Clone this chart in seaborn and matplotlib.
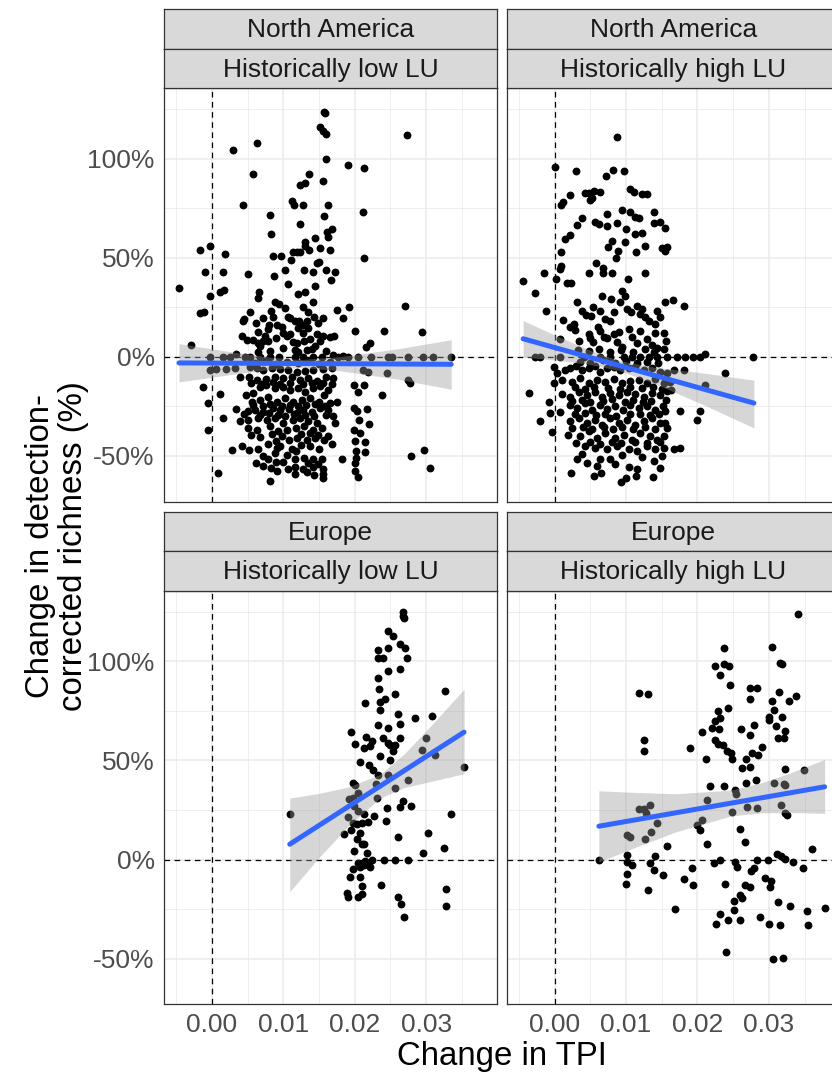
import numpy as np
import matplotlib
matplotlib.use("Agg")
import matplotlib.pyplot as plt
import seaborn as sns

sns.set_style("white")
plt.rcParams['font.family'] = ['Liberation Sans', 'DejaVu Sans']

# ---------------- data ----------------
strip_regions = ["North America", "North America", "Europe", "Europe"]
strip_history = ["Historically low LU", "Historically high LU",
                 "Historically low LU", "Historically high LU"]
x_title = "Change in TPI"
y_title = "Change in detection-\ncorrected richness (%)"

x_breaks = [0.00, 0.01, 0.02, 0.03]
x_labels = ["0.00", "0.01", "0.02", "0.03"]
x_minor = [-0.005, 0.005, 0.015, 0.025, 0.035]
y_breaks = [-50, 0, 50, 100]
y_labels = ["-50%", "0%", "50%", "100%"]
y_minor = [-25, 25, 75, 125]

# points: (change in TPI x 1000, change in richness %)
na_low_points = [
    (15.7, 123.7), (15.8, 123), (15.1, 116), (15.6, 114), (16.0, 112.5), (27.3, 112), (6.3, 108), (3.0, 104.5),
    (16.0, 100), (19.0, 97), (21.3, 95.5), (5.7, 92.5), (13.6, 92.5), (13.1, 88), (12.3, 86.7), (15.5, 89),
    (4.3, 77), (11.2, 79), (11.5, 76.7), (12.7, 77), (16.3, 77), (21.1, 73), (8.1, 71.7), (15.7, 71), (12.4, 67),
    (8.3, 62), (16.8, 64.5), (16.3, 60.5), (16.1, 63), (13.0, 58), (13.0, 56), (14.5, 60), (11.4, 53), (11.9, 53),
    (12.3, 53), (13.6, 54), (15.1, 55), (16.6, 54), (8.5, 51), (9.7, 51), (21.3, 50), (-1.7, 54), (-0.3, 56), (1.8, 52),
    (11.1, 49), (15.0, 48), (14.7, 47.5), (-4.6, 35), (-1.0, 43), (1.5, 43), (-0.3, 31), (1.1, 33), (1.7, 34),
    (-1.7, 22), (-1.1, 22.5), (5.0, 41.7), (8.7, 41), (10.2, 43.7), (10.6, 37), (12.9, 44), (14.2, 43), (16.0, 44),
    (17.2, 43), (16.7, 39), (12.0, 32), (13.1, 32.7), (14.5, 36), (6.6, 33), (6.4, 30), (8.9, 27.8), (9.4, 26.7),
    (10.3, 24.5), (12.7, 25), (14.1, 28), (13.5, 22.5), (14.3, 20), (15.6, 19.7), (17.5, 23.8), (19.2, 25.3),
    (18.4, 19.7), (27.0, 25.5), (5.3, 22.5), (4.5, 19), (4.3, 18.3), (7.2, 19.5), (6.2, 17), (8.3, 23.3), (8.6, 20.3),
    (9.1, 16.2), (10.6, 20), (11.0, 19.5), (11.6, 18.3), (12.2, 18.3), (12.1, 14.7), (13.3, 18.3), (7.9, 14),
    (6.4, 12.8), (10.0, 12.2), (10.5, 10.8), (4.2, 10.8), (4.9, 8.7), (5.8, 8.7), (6.4, 7.2), (6.7, 5.7), (7.2, 8.3),
    (7.9, 8), (11.4, 7.8), (11.9, 7), (12.9, 8), (12.8, 12), (13.5, 14.5), (14.7, 11.7), (15.6, 10.8), (16.5, 10),
    (17.1, 10.8), (14.5, 5.3), (11.7, 3.7), (13.3, 3.3), (20.1, 13), (22.1, 7), (21.6, 5), (24.1, 13.3), (29.4, 12.5),
    (-2.9, 5.8), (3.4, 1.7), (17.0, 0.8), (18.3, 0.5),
    (-0.2, 0), (1.5, 0), (2.6, 0), (4.6, 0), (5.3, 0), (6.7, 0), (8.1, 0), (9.4, 0), (11.6, 0), (12.8, 0), (14.2, 0),
    (15.4, 0), (17.7, 0), (19.1, 0), (20.5, 0), (22.3, 0), (24.7, 0), (25.2, 0), (27.4, 0), (29.6, 0), (30.9, 0), (33.5, 0),
    (-0.2, -6.7), (0.6, -6.3), (2.0, -6.3), (3.2, -5.8), (5.3, -5), (6.3, -5.8), (7.2, -6.7), (8.4, -5.5), (9.5, -6.3),
    (10.7, -6.7), (11.9, -7.5), (13.0, -7), (14.2, -6.7), (15.6, -6.3), (16.8, -5.8), (21.1, -6.7), (21.9, -7.5),
    (24.5, -8), (27.5, -11.7), (27.8, -13), (3.9, -10), (5.2, -10.3), (6.3, -11.7), (7.6, -11.3), (8.8, -10),
    (10.0, -10.8), (11.2, -10), (12.3, -11.7), (13.5, -10.8), (14.7, -12), (16.0, -10), (17.0, -10.8), (-1.2, -15),
    (19.9, -14.2), (21.3, -14.2), (20.4, -17.8), (23.8, -19.2), (1.2, -18.7), (-0.5, -23.3), (5.8, -18.3), (6.7, -15),
    (7.6, -14.2), (8.8, -15.8), (9.9, -15), (10.9, -16.7), (12.0, -15.8), (13.1, -17.5), (14.2, -15.8), (15.2, -14.7),
    (16.3, -16.7), (15.7, -19.2), (4.8, -19.2), (5.6, -22.5), (6.7, -21.7), (7.9, -20), (9.1, -22.5), (10.2, -20.8),
    (11.4, -22.5), (12.6, -21.7), (13.7, -20.8), (15.0, -22.5), (16.6, -23.3), (17.5, -22.5), (3.4, -26.3), (5.0, -27.5),
    (6.0, -26.7), (7.2, -28), (8.6, -25.8), (9.6, -27), (10.8, -26.3), (11.9, -28.3), (12.8, -26.7), (14.0, -28),
    (15.2, -25.8), (16.3, -27), (19.9, -25.8), (20.3, -27.5), (21.7, -26.3), (1.5, -30.8), (3.9, -32.5), (5.1, -31.7),
    (6.5, -30.8), (7.7, -31.7), (8.8, -30.8), (10.0, -33.3), (11.3, -32), (12.3, -30.8), (13.5, -32.5), (14.7, -33.3),
    (17.0, -30), (17.3, -33.3), (20.6, -31.7), (22.0, -33.8), (5.1, -35.8), (6.3, -36.7), (8.1, -35), (9.3, -37.5),
    (10.5, -36.7), (11.8, -35.8), (12.9, -35), (14.2, -36.7), (15.4, -35.8), (-0.5, -37), (19.9, -37), (20.7, -38.3),
    (9.8, -40), (11.9, -40.8), (13.3, -41.7), (14.4, -40.8), (15.7, -42), (20.0, -42.5), (21.4, -43), (2.8, -47),
    (4.2, -45), (5.2, -47.2), (6.4, -46.3), (9.1, -46.2), (8.8, -48.3), (10.5, -49.5), (11.2, -46.3), (11.8, -47.5),
    (7.2, -50), (7.9, -51.3), (9.0, -53.3), (10.0, -53), (11.6, -51.7), (12.9, -50.8), (14.1, -51.3), (15.4, -51.7),
    (18.2, -51.7), (20.2, -47.5), (20.2, -50.8), (21.5, -48), (20.0, -53.7), (27.9, -50), (29.7, -47), (30.6, -56.2),
    (0.9, -58.7), (7.1, -55), (9.1, -57.5), (11.6, -55.8), (12.8, -56.7), (14.2, -55.5), (15.5, -56.7), (8.1, -62.5),
    (11.6, -59.2), (13.3, -58.3), (14.3, -59.7), (15.5, -61.3), (15.5, -59.2), (20.0, -57.5), (20.5, -60.5),
    (6.0, -3), (7.5, -2), (9.0, -3.5), (10.5, -2.5), (12.0, -3), (13.5, -2), (15.0, -3.5), (16.5, -2.5),
    (5.5, -13), (7.0, -13.5), (8.5, -12.5), (9.5, -13.5), (11.0, -13), (12.8, -13.8), (14.0, -13), (15.5, -13.2),
    (16.8, -13.6), (5.8, -24.5), (7.2, -25), (8.2, -24), (9.8, -24.8), (11.0, -24.2), (12.0, -25), (13.2, -24.5),
    (14.5, -24), (15.8, -24.8), (4.5, -29), (6.8, -29.5), (8.0, -28.5), (9.2, -29.2), (10.3, -29.8), (11.5, -29),
    (13.0, -29.5), (14.3, -29.8), (16.0, -29.2), (5.5, -39.5), (6.8, -40.5), (8.4, -39), (9.0, -42.5), (10.8, -42),
    (12.5, -39), (13.8, -38.2), (14.9, -39.2), (16.2, -40), (7.8, -44), (9.5, -45), (12.5, -44.5), (13.8, -45.2),
    (15.0, -46.5), (16.8, -44), (6.2, -53.5), (8.3, -56.2), (10.6, -56.5), (13.5, -53.8), (14.8, -54),
    (6.5, 2.5), (8.2, 3.2), (10.0, 4.5), (12.0, 2.7), (14.0, 4), (16.0, 3), (7.5, 10.5), (9.0, 9.5), (11.0, 11.5),
    (13.8, 9.2), (15.2, 8), (8.0, 16.3), (9.8, 15), (12.8, 16), (14.8, 17.2),
]

na_high_points = [
    (8.7, 111), (0.0, 95.8), (3.0, 93.7), (7.2, 91.3), (8.2, 94.5), (9.7, 93.8), (4.3, 83), (4.8, 82.8), (5.5, 83.7),
    (6.3, 83.3), (5.2, 80.3), (4.9, 79.2), (2.1, 82), (1.2, 78.3), (0.9, 77), (10.6, 85), (11.1, 83.3), (12.2, 82.5),
    (12.9, 82.5), (9.5, 74), (10.6, 73.3), (11.2, 70.8), (11.8, 70), (13.9, 73.3), (7.3, 72.2), (3.8, 70.3), (3.2, 66.7),
    (5.6, 68.3), (6.2, 67), (7.3, 66.3), (8.7, 67.5), (10.0, 64.7), (11.2, 62), (12.3, 62.5), (13.9, 67.5), (14.7, 68.3),
    (15.4, 65.3), (2.2, 61.7), (1.5, 59.7), (8.0, 58.7), (9.9, 58), (7.5, 55.3), (8.9, 53.7), (12.7, 55.8), (11.4, 53),
    (15.0, 55), (15.4, 53.3), (15.7, 55.3), (0.9, 53), (8.6, 50),
    (5.8, 47.5), (6.8, 45), (8.0, 42.5), (6.8, 42.3), (0.9, 45.8), (0.7, 44.5), (4.8, 42.5), (12.6, 42.2), (-1.5, 42.2),
    (-4.4, 38.3), (0.2, 39.5), (1.7, 37.5), (2.3, 37.5), (10.3, 39.5), (-2.7, 32.5), (6.6, 30.8), (7.9, 29.2), (9.4, 33.3),
    (9.9, 30.8), (3.1, 27.8), (9.1, 27.8), (15.5, 28), (16.6, 28.8), (18.1, 25.5), (-1.2, 23), (3.8, 23.3), (5.4, 25),
    (4.4, 21.2), (5.1, 20.8), (6.4, 23.3), (7.1, 19.2), (7.8, 18.3), (8.3, 22.8), (10.1, 24.2), (10.7, 22.5), (11.5, 25.8),
    (12.2, 24.2), (11.9, 21.7), (12.6, 20), (13.2, 18.3), (14.4, 23.3), (14.8, 20), (14.1, 16.7), (1.2, 18.7), (2.7, 16.7),
    (2.1, 15), (2.9, 13.7), (3.4, 8), (4.8, 11.7), (5.0, 9.7), (5.4, 7.5), (6.1, 15), (6.4, 13), (6.9, 10.3), (7.4, 9.7),
    (8.3, 11.7), (9.0, 12.5), (8.7, 7.5), (9.4, 5), (10.4, 14.2), (10.8, 10), (11.5, 7.2), (11.9, 13.3), (12.9, 9.2),
    (13.6, 5.8), (14.1, 12), (15.3, 12), (15.6, 8), (0.8, 9.2), (14.3, 4.7), (15.3, 4.0), (21.1, 1.7),
    (-2.8, 0), (-2.0, 0), (0.8, 0), (4.1, 0), (6.4, 0), (7.8, 0), (9.7, 0), (10.8, 0), (12.0, 0), (13.2, 0), (14.3, 0),
    (15.7, 0), (17.1, 0), (18.2, 0), (19.4, 0), (20.4, 0), (27.8, 0),
    (-0.1, -5), (0.3, -8.3), (1.4, -6.7), (2.2, -5.8), (3.0, -4.7), (3.8, -6.7), (4.8, -5.8), (5.7, -4.7), (6.4, -7.5),
    (7.3, -5.8), (8.3, -5), (9.2, -6.7), (10.4, -5.8), (11.3, -5), (12.5, -6.7), (13.6, -5.8), (14.7, -7.5), (15.7, -8.3),
    (16.7, -6.7), (18.1, -6.7), (23.9, -8.3), (-0.1, -13), (1.0, -11.7), (2.4, -12.5), (3.6, -10.8), (4.8, -13.3),
    (5.9, -11.7), (7.1, -12.5), (8.3, -11.3), (9.4, -13.3), (10.6, -12), (11.8, -11.7), (12.9, -13), (14.1, -11.3),
    (15.3, -13.3), (16.2, -12.5), (21.0, -14.2), (-3.6, -18), (1.0, -18.7), (2.2, -20), (3.4, -17.5), (4.5, -19.2),
    (5.7, -17.5), (6.6, -20), (7.8, -18.3), (9.0, -19.2), (10.1, -17.5), (11.3, -18.7), (12.5, -20), (13.6, -18),
    (14.8, -19.2), (15.7, -17), (16.3, -16.7), (-0.8, -22.5), (0.8, -28), (-0.6, -28.3), (-2.0, -32.2), (-0.4, -38),
    (2.1, -24.2), (3.1, -25.8), (4.3, -23.3), (5.2, -26.7), (6.3, -24.2), (7.3, -26.3), (8.5, -24.7), (9.6, -27),
    (10.6, -24.2), (11.8, -25.8), (12.9, -24.7), (14.0, -26.7), (15.2, -24.7), (15.5, -27.5), (17.5, -27.5),
    (20.4, -27.5), (19.9, -31.7), (2.1, -32.5), (3.4, -30.8), (4.5, -33.3), (5.7, -31.7), (6.6, -34.2), (7.8, -30.8),
    (9.0, -33.3), (10.1, -32), (11.3, -34.2), (12.5, -32.5), (13.6, -30.8), (14.8, -33.3), (15.4, -33.3), (1.9, -39.2),
    (3.6, -40), (4.8, -37.5), (5.9, -40.8), (7.1, -38.3), (8.5, -40.8), (9.7, -39.2), (10.8, -41.7), (12.0, -38.3),
    (13.3, -40), (14.3, -41.7), (15.3, -40), (4.3, -45), (5.7, -45.8), (7.3, -46.7), (8.7, -45), (10.4, -46.3),
    (11.5, -47.5), (12.9, -45), (14.1, -46.3), (15.3, -45.8), (16.7, -46.3), (17.5, -45.8), (3.2, -51.7), (3.8, -49.2),
    (6.4, -51.3), (7.8, -51.7), (10.4, -55.8), (11.5, -56.7), (13.9, -52.5), (14.7, -56.3), (2.3, -58.7), (5.5, -60),
    (6.5, -58.7), (9.3, -63.3), (10.0, -61.3), (11.4, -60.3), (13.8, -60.8),
    (3.5, -2.5), (5.0, -3), (6.8, -1.5), (8.5, -3), (10.0, -2), (11.5, -3.2), (13.0, -2.3), (14.5, -3),
    (2.8, -15), (4.2, -16), (5.5, -15.2), (7.5, -15.5), (9.2, -16), (10.5, -15), (12.2, -15.8), (13.8, -15.3), (15.0, -16),
    (2.5, -22), (3.8, -21.5), (5.0, -22.5), (6.8, -22), (8.0, -21.3), (9.8, -22.5), (11.0, -21.5), (12.4, -22.5),
    (13.5, -22), (15.6, -21.8), (2.8, -29), (4.2, -28.5), (5.8, -29.3), (7.0, -28.8), (8.6, -29.8), (10.5, -29),
    (12.0, -28.8), (13.3, -29.5), (14.6, -28.7), (2.5, -36), (4.0, -35.2), (5.3, -36.3), (6.9, -35.5), (8.2, -36.2),
    (9.5, -35.3), (11.0, -36.5), (12.7, -35.5), (14.0, -36.3), (15.8, -35.8), (3.0, -43.5), (5.0, -43), (6.4, -43.8),
    (8.0, -42.8), (9.3, -43.5), (11.3, -43), (13.0, -43.6), (14.8, -42.8), (4.5, -53.5), (6.0, -55), (8.5, -54),
    (9.5, -49.5), (12.2, -50.5), (15.0, -49.8), (3.3, 3.5), (4.8, 2.8), (6.2, 4), (7.8, 2.5), (9.3, 3.3), (11.0, 2.5),
    (12.6, 3.8), (13.9, 2.7),
]

eu_low_points = [
    (26.7, 125), (26.8, 123), (26.9, 122), (24.6, 115.5), (25.3, 112.7), (23.2, 106), (24.6, 107), (23.3, 101.7),
    (24.0, 101.8), (26.4, 108.8), (27.0, 106.7), (27.3, 101.8), (26.4, 96.3), (24.6, 95), (23.2, 91.7), (23.4, 86),
    (25.7, 83.3), (21.4, 78.8), (23.6, 79.7), (24.3, 80.8), (23.6, 75.5), (32.6, 85), (26.0, 73.5), (26.3, 68.5),
    (28.5, 71.3), (30.8, 72.2), (23.2, 68), (24.6, 66.3), (19.5, 64.3), (21.6, 61.8), (20.1, 58.5), (21.3, 56.3),
    (22.4, 59.7), (22.1, 57.2), (23.9, 61.3), (24.6, 58.8), (25.0, 57.7), (26.3, 61.3), (25.7, 58), (25.4, 55),
    (23.6, 52.2), (25.0, 50), (20.7, 49.3), (22.0, 47.5), (22.6, 45.2), (23.3, 42.7), (24.7, 42.7), (30.0, 61.3),
    (29.4, 55.5), (31.2, 53), (35.3, 46.8), (27.4, 40), (25.6, 36.3), (19.7, 38.8), (20.1, 37.5), (20.5, 33.5),
    (19.7, 31.3), (23.0, 38.3), (23.1, 31.3), (19.2, 30.5), (19.9, 27.2), (20.5, 24.3), (26.8, 29.3), (26.3, 26.7),
    (27.9, 27.2), (24.5, 26), (22.7, 21.8), (21.3, 23.2), (21.0, 18.5), (21.8, 18.7), (10.9, 22.8), (33.5, 23.2),
    (19.1, 21.3), (19.7, 18.5), (20.3, 18), (24.4, 19.3), (18.5, 12.8), (19.5, 15), (20.8, 13.5), (20.3, 10.5),
    (21.0, 8), (21.3, 7.7), (26.0, 11.3), (30.2, 13.5), (32.5, 6), (29.6, 3.3), (19.9, 4.2), (21.7, 3.5),
    (20.5, -1.7), (21.0, -2.3), (21.4, -0.7), (21.9, -2.3), (22.4, 0), (24.1, 0), (25.7, 0), (27.5, 0),
    (19.7, -5), (20.7, -4), (21.3, -2.8), (22.2, -3.7), (19.3, -9), (20.7, -9), (21.0, -13.2), (23.7, -12.8),
    (18.9, -17), (19.1, -19), (20.4, -19), (21.0, -17.3), (32.7, -14.8), (26.1, -19), (26.5, -22.3), (32.8, -23.3),
    (26.9, -29.2),
]

eu_high_points = [
    (34.1, 123.8), (23.7, 106.8), (30.5, 107.2), (22.5, 97.7), (23.7, 98.8), (24.4, 97.7), (23.2, 93.3), (31.5, 99.2),
    (31.9, 98.8), (24.5, 88), (27.3, 86.8), (28.4, 86.8), (27.3, 81), (11.8, 84.3), (13.1, 83.5), (30.4, 80),
    (31.4, 84.7), (32.8, 80.2), (33.8, 82.7), (22.9, 75), (24.3, 76.7), (23.2, 71.3), (22.5, 69.7), (30.7, 75.5),
    (30.0, 71.7), (30.0, 70.5), (31.9, 71.7), (27.9, 68), (31.0, 67.2), (32.3, 64.7), (22.1, 66.3), (23.0, 66),
    (26.1, 66), (20.6, 64.3), (12.5, 60.2), (12.5, 55), (27.3, 62.7), (31.3, 61.3), (32.1, 61.3), (18.9, 56.3),
    (22.4, 60.5), (22.9, 58.3), (23.6, 57.7), (24.2, 55), (24.7, 53.8), (24.8, 50.8), (21.2, 50.8), (27.7, 53.8),
    (28.5, 53), (29.0, 56.8), (26.8, 50.5), (26.2, 46.3), (27.4, 46.7), (28.2, 40.2), (26.8, 38.8), (32.2, 45.5),
    (34.9, 45), (21.8, 37.2), (23.7, 37.2), (25.2, 35), (25.4, 33), (30.7, 38.5), (32.1, 38.3), (32.2, 37.7),
    (21.3, 30.2), (31.7, 27.5), (32.3, 23.5), (32.5, 22.7), (26.9, 26.3), (28.4, 25.8), (24.9, 23.8), (11.8, 25.5),
    (12.5, 25.5), (13.3, 27.5), (12.8, 23.3), (14.4, 18.3), (20.7, 20), (20.0, 17.2), (20.3, 14.7), (25.9, 15.3),
    (26.6, 8.7), (10.2, 12.5), (10.6, 11.3), (12.6, 10.5), (13.5, 13.8), (15.7, 6.7), (21.3, 7.7), (36.0, 5.5),
    (6.2, -0.3), (10.1, 2.2), (10.1, -1.2), (10.9, -2.8), (13.4, -1.7), (14.0, 1.7), (13.9, -5.3), (15.2, -7.8),
    (10.1, -7.3), (10.0, -12.3), (13.1, -15.3), (18.1, -10), (19.3, -4.5), (19.4, -12.8), (22.3, -2), (23.2, -0.3),
    (25.3, -1.2), (25.5, -4), (28.3, 0), (29.9, 0), (31.2, 3), (31.7, 1.7), (32.3, 0.5), (33.4, -1.2), (34.8, -4.5),
    (27.5, -5.7), (27.9, -4.5), (23.8, -12.3), (26.7, -13), (27.4, -13.7), (29.4, -9.5), (30.3, -10.7), (30.2, -13.7),
    (25.9, -17.8), (26.3, -19.5), (25.1, -20.7), (31.3, -21.5), (32.9, -23.7), (35.3, -25.8), (37.8, -24.5),
    (16.9, -24.8), (23.1, -27.3), (25.1, -25.7), (24.3, -30.3), (25.9, -30.3), (22.6, -32.8), (28.8, -29),
    (30.0, -32.5), (31.5, -33.3), (35.5, -33.3), (24.0, -46.7), (30.6, -50.3), (32.0, -49.5),
]

# linear fits (ends of fitted line) and 95% CI band
na_low_fit_tpi = [-0.0046, 0.0335]
na_low_fit_pct = [-3.0, -3.7]
na_low_band_tpi = [-0.0046, 0.002, 0.008, 0.0125, 0.018, 0.026, 0.0335]
na_low_band_lo = [-12.6, -9.2, -6.4, -5.3, -7.0, -11.2, -16.3]
na_low_band_hi = [6.7, 3.0, -0.1, -1.3, 0.2, 4.1, 8.7]

na_high_fit_tpi = [-0.0044, 0.0279]
na_high_fit_pct = [9.2, -23.3]
na_high_band_tpi = [-0.0044, 0.0, 0.005, 0.009, 0.014, 0.021, 0.0279]
na_high_band_lo = [0.0, -1.5, -3.8, -6.8, -13.4, -24.4, -35.8]
na_high_band_hi = [18.4, 11.1, 3.3, -1.8, -5.2, -8.2, -11.7]

eu_low_fit_tpi = [0.0109, 0.0353]
eu_low_fit_pct = [7.7, 64.3]
eu_low_band_tpi = [0.0109, 0.015, 0.019, 0.0235, 0.027, 0.031, 0.0353]
eu_low_band_lo = [-16.2, 1.0, 16.5, 30.9, 36.4, 39.7, 43.3]
eu_low_band_hi = [31.0, 33.4, 36.5, 42.9, 53.6, 68.9, 86.0]

eu_high_fit_tpi = [0.0062, 0.0378]
eu_high_fit_pct = [16.8, 36.7]
eu_high_band_tpi = [0.0062, 0.011, 0.017, 0.0247, 0.029, 0.033, 0.0378]
eu_high_band_lo = [-1.2, 5.7, 14.0, 22.0, 23.6, 23.7, 23.3]
eu_high_band_hi = [34.7, 33.9, 33.2, 35.0, 38.8, 43.7, 50.5]

panels = [
    (na_low_points, na_low_fit_tpi, na_low_fit_pct, na_low_band_tpi, na_low_band_lo, na_low_band_hi),
    (na_high_points, na_high_fit_tpi, na_high_fit_pct, na_high_band_tpi, na_high_band_lo, na_high_band_hi),
    (eu_low_points, eu_low_fit_tpi, eu_low_fit_pct, eu_low_band_tpi, eu_low_band_lo, eu_low_band_hi),
    (eu_high_points, eu_high_fit_tpi, eu_high_fit_pct, eu_high_band_tpi, eu_high_band_lo, eu_high_band_hi),
]

# ---------------- layout ----------------
W, H = 832, 1073
fig = plt.figure(figsize=(W / 100, H / 100), dpi=100)

col_px = [(164, 497.3), (506.7, 840)]
row_px = [(88.3, 501.7), (590.7, 1004.3)]
strip_px = [(9, 49, 88.3), (512.3, 551, 590.7)]


def rect(x0, x1, y0, y1):
    return [x0 / W, 1 - y1 / H, (x1 - x0) / W, (y1 - y0) / H]


GREY20 = "#333333"
GREY30 = "#4D4D4D"
TICK_FS = 19
TITLE_FS = 23.8

for i, (pts, fx, fy, bx, blo, bhi) in enumerate(panels):
    r, c = divmod(i, 2)
    x0, x1 = col_px[c]
    y0, y1 = row_px[r]
    ax = fig.add_axes(rect(x0, x1, y0, y1))
    ax.set_facecolor("white")

    tpi = np.array([p[0] for p in pts]) / 1000.0
    pct = np.array([p[1] for p in pts])

    ax.axhline(0, color="black", lw=0.9, ls=(0, (4.5, 3.6)), zorder=2.5)
    ax.axvline(0, color="black", lw=0.9, ls=(0, (4.5, 3.6)), zorder=2.5)

    sns.scatterplot(x=tpi, y=pct, ax=ax, color="black", s=32, linewidth=0,
                    zorder=3, legend=False)
    ax.fill_between(bx, blo, bhi, color="#999999", alpha=0.4, lw=0, zorder=4)
    sns.lineplot(x=fx, y=fy, ax=ax, color="#3366FF", lw=3.6, zorder=5,
                 estimator=None, legend=False)

    ax.set_xlim(-0.0067, 0.03995)
    ax.set_ylim(-73.1, 135.7)
    ax.set_xticks(x_breaks)
    ax.set_xticks(x_minor, minor=True)
    ax.set_yticks(y_breaks)
    ax.set_yticks(y_minor, minor=True)
    ax.grid(which="major", color="#EBEBEB", lw=1.1, zorder=0)
    ax.grid(which="minor", color="#EBEBEB", lw=0.6, zorder=0)
    ax.set_axisbelow(True)
    ax.set_xlabel("")
    ax.set_ylabel("")

    for s in ax.spines.values():
        s.set_visible(True)
        s.set_color(GREY20)
        s.set_linewidth(0.9)

    ax.tick_params(which="minor", length=0)
    ax.tick_params(which="major", length=3.6, width=0.8, color=GREY20,
                   labelcolor=GREY30, labelsize=TICK_FS, pad=3)
    if r == 1:
        ax.set_xticklabels(x_labels)
    else:
        ax.tick_params(axis="x", which="major", length=0, labelbottom=False)
    if c == 0:
        ax.set_yticklabels(y_labels)
    else:
        ax.tick_params(axis="y", which="major", length=0, labelleft=False)

    # facet strips
    sy0, sy1, sy2 = strip_px[r]
    for (ya, yb, label) in [(sy0, sy1, strip_regions[i]), (sy1, sy2, strip_history[i])]:
        sax = fig.add_axes(rect(x0, x1, ya, yb))
        sax.set_facecolor("#D9D9D9")
        sax.set_xticks([])
        sax.set_yticks([])
        for s in sax.spines.values():
            s.set_color(GREY20)
            s.set_linewidth(0.9)
        sax.text(0.5, 0.47, label, transform=sax.transAxes, ha="center",
                 va="center", fontsize=TICK_FS, color="#1A1A1A")

fig.text(502 / W, 1 - 1065 / H, x_title, ha="center", va="baseline",
         fontsize=TITLE_FS, color="black")
fig.text(57 / W, 1 - 546.3 / H, y_title, ha="center", va="center",
         rotation=90, fontsize=TITLE_FS, color="black", linespacing=1.05)

fig.savefig("out.png", dpi=100, facecolor="white")
